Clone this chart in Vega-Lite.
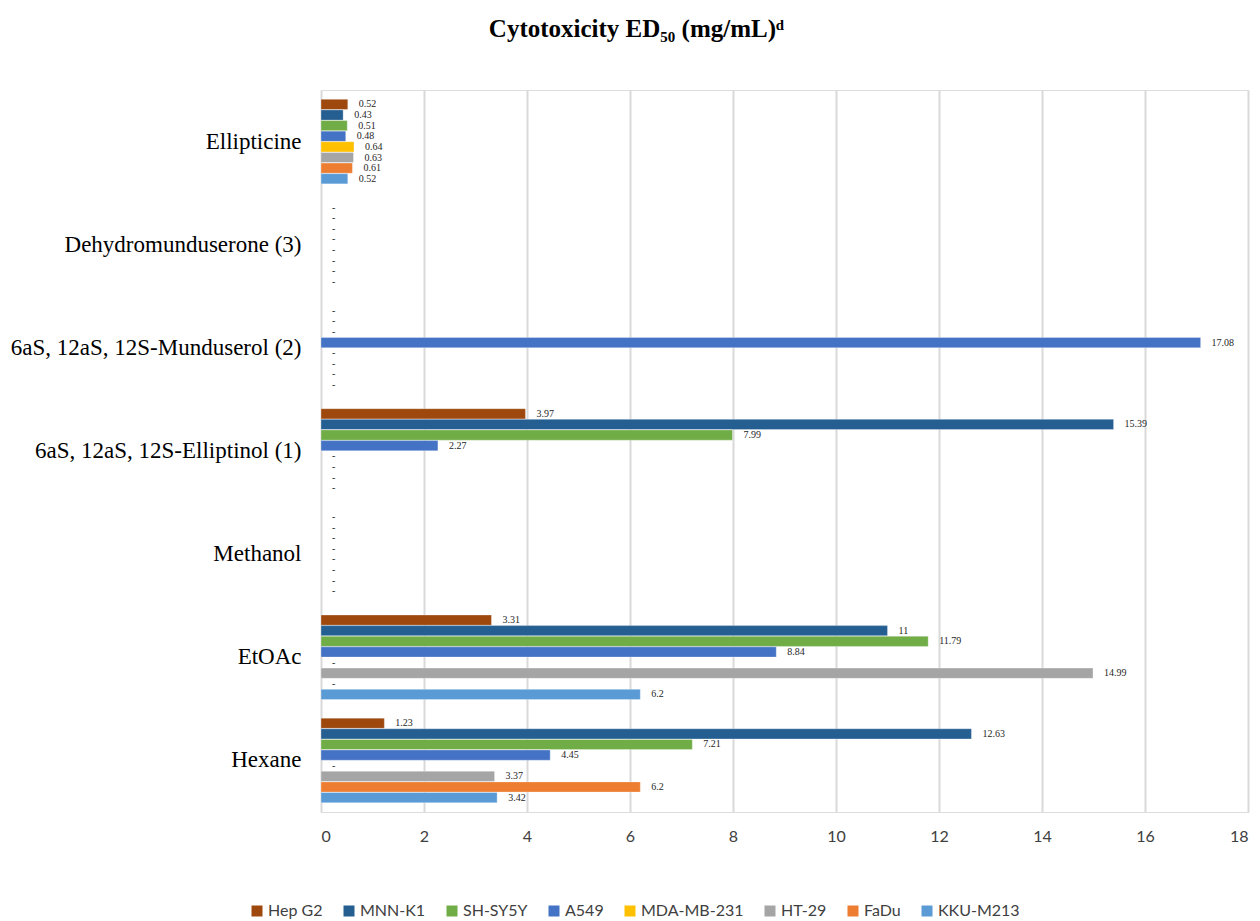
{
  "$schema": "https://vega.github.io/schema/vega-lite/v6.json",
  "width": 927,
  "height": 722,
  "autosize": "none",
  "padding": {"left": 321, "top": 90, "right": 12, "bottom": 109},
  "background": "white",
  "title": {
    "text": "Cytotoxicity ED₅₀ (mg/mL)ᵈ",
    "font": "Liberation Serif",
    "fontSize": 25,
    "fontWeight": "bold",
    "color": "black",
    "anchor": "middle",
    "frame": "group",
    "dx": -148,
    "offset": 48
  },
  "data": {
    "values": [
      {"compound": "Ellipticine", "cell": "Hep G2", "value": 0.52, "label": "0.52"},
      {"compound": "Ellipticine", "cell": "MNN-K1", "value": 0.43, "label": "0.43"},
      {"compound": "Ellipticine", "cell": "SH-SY5Y", "value": 0.51, "label": "0.51"},
      {"compound": "Ellipticine", "cell": "A549", "value": 0.48, "label": "0.48"},
      {"compound": "Ellipticine", "cell": "MDA-MB-231", "value": 0.64, "label": "0.64"},
      {"compound": "Ellipticine", "cell": "HT-29", "value": 0.63, "label": "0.63"},
      {"compound": "Ellipticine", "cell": "FaDu", "value": 0.61, "label": "0.61"},
      {"compound": "Ellipticine", "cell": "KKU-M213", "value": 0.52, "label": "0.52"},
      {"compound": "Dehydromunduserone (3)", "cell": "Hep G2", "value": null, "label": "-"},
      {"compound": "Dehydromunduserone (3)", "cell": "MNN-K1", "value": null, "label": "-"},
      {"compound": "Dehydromunduserone (3)", "cell": "SH-SY5Y", "value": null, "label": "-"},
      {"compound": "Dehydromunduserone (3)", "cell": "A549", "value": null, "label": "-"},
      {"compound": "Dehydromunduserone (3)", "cell": "MDA-MB-231", "value": null, "label": "-"},
      {"compound": "Dehydromunduserone (3)", "cell": "HT-29", "value": null, "label": "-"},
      {"compound": "Dehydromunduserone (3)", "cell": "FaDu", "value": null, "label": "-"},
      {"compound": "Dehydromunduserone (3)", "cell": "KKU-M213", "value": null, "label": "-"},
      {"compound": "6aS, 12aS, 12S-Munduserol (2)", "cell": "Hep G2", "value": null, "label": "-"},
      {"compound": "6aS, 12aS, 12S-Munduserol (2)", "cell": "MNN-K1", "value": null, "label": "-"},
      {"compound": "6aS, 12aS, 12S-Munduserol (2)", "cell": "SH-SY5Y", "value": null, "label": "-"},
      {"compound": "6aS, 12aS, 12S-Munduserol (2)", "cell": "A549", "value": 17.08, "label": "17.08"},
      {"compound": "6aS, 12aS, 12S-Munduserol (2)", "cell": "MDA-MB-231", "value": null, "label": "-"},
      {"compound": "6aS, 12aS, 12S-Munduserol (2)", "cell": "HT-29", "value": null, "label": "-"},
      {"compound": "6aS, 12aS, 12S-Munduserol (2)", "cell": "FaDu", "value": null, "label": "-"},
      {"compound": "6aS, 12aS, 12S-Munduserol (2)", "cell": "KKU-M213", "value": null, "label": "-"},
      {"compound": "6aS, 12aS, 12S-Elliptinol (1)", "cell": "Hep G2", "value": 3.97, "label": "3.97"},
      {"compound": "6aS, 12aS, 12S-Elliptinol (1)", "cell": "MNN-K1", "value": 15.39, "label": "15.39"},
      {"compound": "6aS, 12aS, 12S-Elliptinol (1)", "cell": "SH-SY5Y", "value": 7.99, "label": "7.99"},
      {"compound": "6aS, 12aS, 12S-Elliptinol (1)", "cell": "A549", "value": 2.27, "label": "2.27"},
      {"compound": "6aS, 12aS, 12S-Elliptinol (1)", "cell": "MDA-MB-231", "value": null, "label": "-"},
      {"compound": "6aS, 12aS, 12S-Elliptinol (1)", "cell": "HT-29", "value": null, "label": "-"},
      {"compound": "6aS, 12aS, 12S-Elliptinol (1)", "cell": "FaDu", "value": null, "label": "-"},
      {"compound": "6aS, 12aS, 12S-Elliptinol (1)", "cell": "KKU-M213", "value": null, "label": "-"},
      {"compound": "Methanol", "cell": "Hep G2", "value": null, "label": "-"},
      {"compound": "Methanol", "cell": "MNN-K1", "value": null, "label": "-"},
      {"compound": "Methanol", "cell": "SH-SY5Y", "value": null, "label": "-"},
      {"compound": "Methanol", "cell": "A549", "value": null, "label": "-"},
      {"compound": "Methanol", "cell": "MDA-MB-231", "value": null, "label": "-"},
      {"compound": "Methanol", "cell": "HT-29", "value": null, "label": "-"},
      {"compound": "Methanol", "cell": "FaDu", "value": null, "label": "-"},
      {"compound": "Methanol", "cell": "KKU-M213", "value": null, "label": "-"},
      {"compound": "EtOAc", "cell": "Hep G2", "value": 3.31, "label": "3.31"},
      {"compound": "EtOAc", "cell": "MNN-K1", "value": 11, "label": "11"},
      {"compound": "EtOAc", "cell": "SH-SY5Y", "value": 11.79, "label": "11.79"},
      {"compound": "EtOAc", "cell": "A549", "value": 8.84, "label": "8.84"},
      {"compound": "EtOAc", "cell": "MDA-MB-231", "value": null, "label": "-"},
      {"compound": "EtOAc", "cell": "HT-29", "value": 14.99, "label": "14.99"},
      {"compound": "EtOAc", "cell": "FaDu", "value": null, "label": "-"},
      {"compound": "EtOAc", "cell": "KKU-M213", "value": 6.2, "label": "6.2"},
      {"compound": "Hexane", "cell": "Hep G2", "value": 1.23, "label": "1.23"},
      {"compound": "Hexane", "cell": "MNN-K1", "value": 12.63, "label": "12.63"},
      {"compound": "Hexane", "cell": "SH-SY5Y", "value": 7.21, "label": "7.21"},
      {"compound": "Hexane", "cell": "A549", "value": 4.45, "label": "4.45"},
      {"compound": "Hexane", "cell": "MDA-MB-231", "value": null, "label": "-"},
      {"compound": "Hexane", "cell": "HT-29", "value": 3.37, "label": "3.37"},
      {"compound": "Hexane", "cell": "FaDu", "value": 6.2, "label": "6.2"},
      {"compound": "Hexane", "cell": "KKU-M213", "value": 3.42, "label": "3.42"}
    ]
  },
  "encoding": {
    "y": {
      "field": "compound",
      "type": "nominal",
      "sort": ["Ellipticine", "Dehydromunduserone (3)", "6aS, 12aS, 12S-Munduserol (2)", "6aS, 12aS, 12S-Elliptinol (1)", "Methanol", "EtOAc", "Hexane"],
      "scale": {"paddingInner": 0.18, "paddingOuter": 0.09},
      "axis": {
        "title": null,
        "domain": false,
        "ticks": false,
        "labelFont": "Liberation Serif",
        "labelFontSize": 23,
        "labelColor": "black",
        "labelPadding": 20,
        "labelLimit": 0
      }
    },
    "yOffset": {
      "field": "cell",
      "type": "nominal",
      "sort": ["Hep G2", "MNN-K1", "SH-SY5Y", "A549", "MDA-MB-231", "HT-29", "FaDu", "KKU-M213"],
      "scale": {"paddingInner": 0.04, "paddingOuter": 0}
    }
  },
  "layer": [
    {
      "mark": {"type": "bar", "stroke": "white", "strokeWidth": 0.5, "strokeOpacity": 0.6},
      "encoding": {
        "x": {
          "field": "value",
          "type": "quantitative",
          "scale": {"domain": [0, 18], "nice": false},
          "axis": {
            "title": null,
            "values": [0, 2, 4, 6, 8, 10, 12, 14, 16, 18],
            "domain": false,
            "ticks": false,
            "grid": true,
            "gridColor": "#d9d9d9",
            "gridWidth": 2,
            "labelFont": "Lato",
            "labelFontSize": 16,
            "labelColor": "#404040",
            "labelPadding": 16
          }
        },
        "color": {
          "field": "cell",
          "type": "nominal",
          "sort": ["Hep G2", "MNN-K1", "SH-SY5Y", "A549", "MDA-MB-231", "HT-29", "FaDu", "KKU-M213"],
          "scale": {
            "domain": ["Hep G2", "MNN-K1", "SH-SY5Y", "A549", "MDA-MB-231", "HT-29", "FaDu", "KKU-M213"],
            "range": ["#9E480E", "#255E91", "#70AD47", "#4472C4", "#FFC000", "#A5A5A5", "#ED7D31", "#5B9BD5"]
          },
          "legend": {
            "title": null,
            "orient": "none",
            "direction": "horizontal",
            "legendX": -72,
            "legendY": 813,
            "symbolType": "square",
            "symbolSize": 121,
            "symbolStrokeWidth": 0,
            "symbolOffset": 0,
            "labelOffset": 3,
            "labelFont": "Lato",
            "labelFontSize": 16,
            "labelColor": "#404040",
            "columnPadding": 18
          }
        }
      }
    },
    {
      "transform": [{"calculate": "isValid(datum.value) ? datum.value : 0", "as": "labelPos"}],
      "mark": {"type": "text", "align": "left", "baseline": "middle", "dx": 11, "font": "Liberation Serif", "fontSize": 10, "color": "#262626"},
      "encoding": {
        "x": {"field": "labelPos", "type": "quantitative"},
        "text": {"field": "label"}
      }
    }
  ]
}
